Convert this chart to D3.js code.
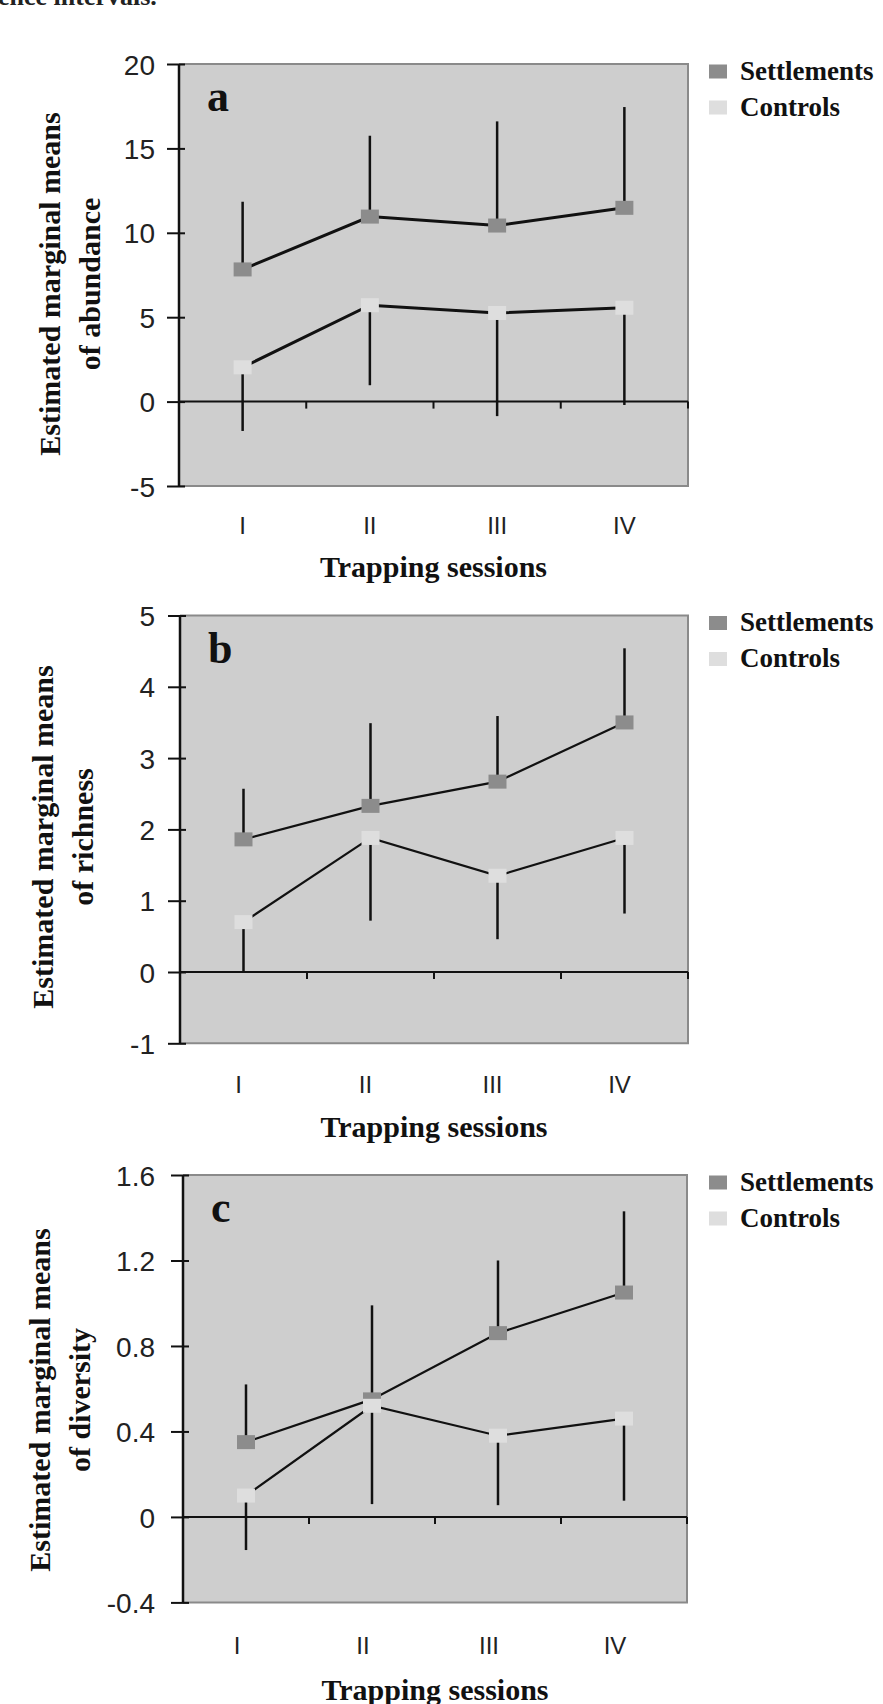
<!DOCTYPE html>
<html>
<head>
<meta charset="utf-8">
<script src="https://cdn.jsdelivr.net/npm/d3@7"></script>
<style>
  html, body { margin: 0; padding: 0; background: #ffffff; }
  svg { display: block; }
</style>
</head>
<body>
<svg id="fig" width="883" height="1704"></svg>
<script>
// Trapping sessions on the x axis
const sessions = ["I", "II", "III", "IV"];
const seriesNames = ["Settlements", "Controls"];

// (a) abundance: estimated marginal means and one-sided interval ends
const abundanceSettlements = [7.83, 10.96, 10.43, 11.48];
const abundanceSettlementsUpper = [11.84, 15.75, 16.6, 17.45];
const abundanceControls = [2.03, 5.71, 5.25, 5.56];
const abundanceControlsLower = [-1.74, 0.97, -0.86, -0.2];
const abundanceTicks = [-5, 0, 5, 10, 15, 20];
const abundanceTickLabels = ["-5", "0", "5", "10", "15", "20"];

// (b) richness
const richnessSettlements = [1.86, 2.33, 2.67, 3.50];
const richnessSettlementsUpper = [2.57, 3.49, 3.59, 4.54];
const richnessControls = [0.70, 1.88, 1.35, 1.88];
const richnessControlsLower = [0.0, 0.72, 0.46, 0.82];
const richnessTicks = [-1, 0, 1, 2, 3, 4, 5];
const richnessTickLabels = ["-1", "0", "1", "2", "3", "4", "5"];

// (c) diversity
const diversitySettlements = [0.35, 0.55, 0.86, 1.05];
const diversitySettlementsUpper = [0.62, 0.99, 1.20, 1.43];
const diversityControls = [0.10, 0.52, 0.38, 0.46];
const diversityControlsLower = [-0.155, 0.06, 0.055, 0.076];
const diversityTicks = [-0.4, 0, 0.4, 0.8, 1.2, 1.6];
const diversityTickLabels = ["-0.4", "0", "0.4", "0.8", "1.2", "1.6"];

// Panel definitions assembled from the arrays above
const panels = [
  { letter: "a", yLabel: ["Estimated marginal means", "of abundance"],
    settle: abundanceSettlements, settleUp: abundanceSettlementsUpper,
    ctrl: abundanceControls, ctrlLow: abundanceControlsLower,
    ticks: abundanceTicks, tickLabels: abundanceTickLabels },
  { letter: "b", yLabel: ["Estimated marginal means", "of richness"],
    settle: richnessSettlements, settleUp: richnessSettlementsUpper,
    ctrl: richnessControls, ctrlLow: richnessControlsLower,
    ticks: richnessTicks, tickLabels: richnessTickLabels },
  { letter: "c", yLabel: ["Estimated marginal means", "of diversity"],
    settle: diversitySettlements, settleUp: diversitySettlementsUpper,
    ctrl: diversityControls, ctrlLow: diversityControlsLower,
    ticks: diversityTicks, tickLabels: diversityTickLabels }
];

// Page geometry of each panel
const frames = [
  { x0: 179, x1: 688, y0: 64,    y1: 486,    lineW: 3.0, titleX: [60, 100], titleY: 284,  xTitleY: 577,  catDx: 0,  catDy: 40 },
  { x0: 180, x1: 688, y0: 615.5, y1: 1043.3, lineW: 2.2, titleX: [53, 93],  titleY: 837,  xTitleY: 1137, catDx: -5, catDy: 41 },
  { x0: 183, x1: 687, y0: 1175,  y1: 1602.4, lineW: 2.2, titleX: [50, 90],  titleY: 1400, xTitleY: 1700, catDx: -9, catDy: 43 }
];

const colors = { plot: "#cecece", settle: "#8c8c8c", ctrl: "#dedede", border: "#8a8a8a", ink: "#111111" };
const serif = "'Liberation Serif', 'Times New Roman', serif";
const sans = "'Liberation Sans', Arial, sans-serif";

const svg = d3.select("#fig");

// Partial caption line from the preceding text block
svg.append("text")
  .attr("x", -2).attr("y", 5)
  .attr("font-family", serif).attr("font-weight", "bold").attr("font-size", 26)
  .attr("fill", "#222")
  .text("ence intervals.");

panels.forEach((p, i) => {
  const f = frames[i];
  const g = svg.append("g");

  const x = d3.scaleBand().domain(sessions).range([f.x0, f.x1]).paddingInner(0).paddingOuter(0);
  const y = d3.scaleLinear().domain([p.ticks[0], p.ticks[p.ticks.length - 1]]).range([f.y1, f.y0]);
  const cx = d => x(d) + x.bandwidth() / 2;

  // plot area
  g.append("rect")
    .attr("x", f.x0).attr("y", f.y0)
    .attr("width", f.x1 - f.x0).attr("height", f.y1 - f.y0)
    .attr("fill", colors.plot);

  // grey frame on top, right and bottom
  g.append("path")
    .attr("d", `M${f.x0},${f.y0}H${f.x1}V${f.y1}H${f.x0}`)
    .attr("fill", "none").attr("stroke", colors.border).attr("stroke-width", 2);

  // category axis crossing at zero, ticks between sessions
  const y0 = y(0);
  g.append("line")
    .attr("x1", f.x0).attr("x2", f.x1).attr("y1", y0).attr("y2", y0)
    .attr("stroke", colors.ink).attr("stroke-width", 2);
  const bounds = d3.range(1, sessions.length + 1).map(k => f.x0 + k * x.step());
  g.selectAll(".xtick").data(bounds).join("line")
    .attr("x1", d => d).attr("x2", d => d)
    .attr("y1", y0).attr("y2", y0 + 7)
    .attr("stroke", colors.ink).attr("stroke-width", 2);

  // category labels
  const xAxis = d3.axisBottom(x).tickSize(0).tickPadding(0);
  const xa = g.append("g").attr("transform", `translate(${f.catDx},${f.y1 + f.catDy})`).call(xAxis);
  xa.select(".domain").remove();
  xa.selectAll("text")
    .attr("dy", "0.35em").attr("y", 0)
    .attr("font-family", sans).attr("font-size", 24).attr("fill", "#222");

  // value axis
  const yAxis = d3.axisLeft(y).tickValues(p.ticks)
    .tickFormat((d, k) => p.tickLabels[k]).tickSize(12).tickPadding(0);
  const ya = g.append("g").attr("transform", `translate(${f.x0},0)`).call(yAxis);
  ya.select(".domain").attr("stroke", colors.ink).attr("stroke-width", 2.5)
    .attr("d", `M0,${f.y0}V${f.y1}`);
  ya.selectAll(".tick line").attr("x1", 6).attr("x2", -12)
    .attr("stroke", colors.ink).attr("stroke-width", 2);
  ya.selectAll(".tick text")
    .attr("x", 155 - f.x0).attr("dy", "0.36em")
    .attr("font-family", sans).attr("font-size", 28).attr("fill", "#222");

  // interval bars: settlements upward, controls downward
  g.selectAll(".barS").data(sessions).join("line")
    .attr("x1", cx).attr("x2", cx)
    .attr("y1", (d, k) => y(p.settle[k])).attr("y2", (d, k) => y(p.settleUp[k]))
    .attr("stroke", colors.ink).attr("stroke-width", 2.5);
  g.selectAll(".barC").data(sessions).join("line")
    .attr("x1", cx).attr("x2", cx)
    .attr("y1", (d, k) => y(p.ctrl[k])).attr("y2", (d, k) => y(p.ctrlLow[k]))
    .attr("stroke", colors.ink).attr("stroke-width", 2.5);

  // connecting lines
  const line = d3.line().x(d => cx(d[0])).y(d => y(d[1]));
  [p.settle, p.ctrl].forEach(vals => {
    g.append("path")
      .attr("d", line(sessions.map((s, k) => [s, vals[k]])))
      .attr("fill", "none").attr("stroke", colors.ink).attr("stroke-width", f.lineW);
  });

  // markers
  [[p.settle, colors.settle], [p.ctrl, colors.ctrl]].forEach(([vals, col]) => {
    g.selectAll(null).data(sessions).join("rect")
      .attr("x", d => cx(d) - 9).attr("y", (d, k) => y(vals[k]) - 7)
      .attr("width", 18).attr("height", 14)
      .attr("fill", col);
  });

  // panel letter
  g.append("text")
    .attr("x", f.x0 + 28).attr("y", f.y0 + 47)
    .attr("font-family", serif).attr("font-weight", "bold").attr("font-size", 44)
    .attr("fill", colors.ink).text(p.letter);

  // legend
  const legend = g.append("g");
  seriesNames.forEach((name, k) => {
    const by = f.y0 + 15.5 + k * 36;
    legend.append("rect")
      .attr("x", 709).attr("y", by - 15).attr("width", 18).attr("height", 14)
      .attr("fill", k === 0 ? colors.settle : colors.ctrl);
    legend.append("text")
      .attr("x", 740).attr("y", by)
      .attr("font-family", serif).attr("font-weight", "bold").attr("font-size", 27)
      .attr("fill", colors.ink).text(name);
  });

  // value-axis title
  p.yLabel.forEach((t, k) => {
    g.append("text")
      .attr("transform", `translate(${f.titleX[k]},${f.titleY}) rotate(-90)`)
      .attr("text-anchor", "middle")
      .attr("font-family", serif).attr("font-weight", "bold").attr("font-size", 30)
      .attr("fill", colors.ink).text(t);
  });

  // category-axis title
  g.append("text")
    .attr("x", (f.x0 + f.x1) / 2).attr("y", f.xTitleY)
    .attr("text-anchor", "middle")
    .attr("font-family", serif).attr("font-weight", "bold").attr("font-size", 30)
    .attr("fill", colors.ink).text("Trapping sessions");
});
</script>
</body>
</html>
